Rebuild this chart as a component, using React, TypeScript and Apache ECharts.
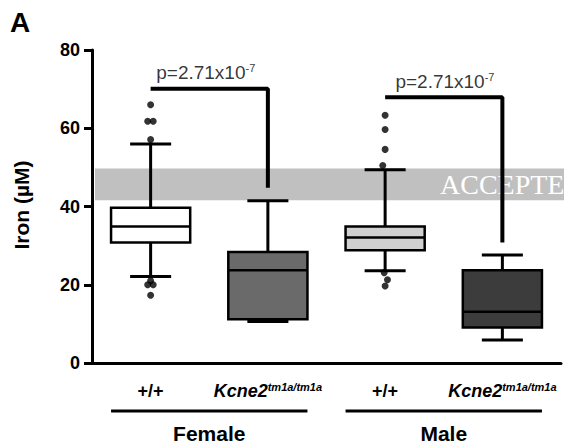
import React, { useEffect, useRef } from "react";
import * as echarts from "echarts";

const categories = ["Female +/+", "Female Kcne2", "Male +/+", "Male Kcne2"];
const axisLabels = ["+/+", "Kcne2", "+/+", "Kcne2"];
const groupNames = ["Female", "Male"];
// [low whisker, Q1, median, Q3, high whisker]
const lowWhisker = [22.1, 10.6, 23.6, 5.9];
const q1 = [30.8, 11.2, 28.8, 9.1];
const median = [34.9, 23.7, 32.1, 13.1];
const q3 = [39.7, 28.4, 34.9, 23.7];
const highWhisker = [56.0, 41.5, 49.4, 27.6];
const boxColors = ["#ffffff", "#6a6a6a", "#d0d0d0", "#3c3c3c"];
// outliers: [category position, value]
const outliers = [
  [0, 66.0], [-0.025, 61.8], [0.022, 61.8], [0, 57.1],
  [0, 21.0], [-0.025, 20.0], [0.022, 20.0], [0, 17.3],
  [2, 63.3], [2, 59.7], [2, 54.6], [1.98, 50.5],
  [1.992, 23.1], [2.02, 21.3], [2, 19.7],
];
const pText = "p=2.71x10";
const pExp = "-7";
const femaleBracket = [[0, 70.1], [1, 70.1], [1, 44.8]];
const maleBracket = [[2, 67.9], [3, 67.9], [3, 30.8]];
const pLabelPos = [[0.47, 70.1], [2.51, 67.9]];
const yMin = 0;
const yMax = 80;
const yInterval = 20;
const bandRange = [41.6, 49.7];

const FONT = "'Liberation Sans', Arial, sans-serif";

export default function App() {
  const ref = useRef<HTMLDivElement>(null);
  useEffect(() => {
    document.body.style.margin = "0";
    const chart = echarts.init(ref.current!, null, { renderer: "svg" });
    const boxData = categories.map((_, i) => [i, lowWhisker[i], q1[i], median[i], q3[i], highWhisker[i]]);
    const option: any = {
      animation: false,
      grid: { left: 92, right: 3, top: 50, bottom: 83 },
      xAxis: [
        {
          type: "category",
          data: categories,
          boundaryGap: true,
          axisLine: { onZero: false, lineStyle: { color: "#000", width: 3 } },
          axisTick: { alignWithLabel: true, length: 9, lineStyle: { color: "#000", width: 3 } },
          axisLabel: {
            interval: 0,
            margin: 18,
            color: "#000",
            fontFamily: FONT,
            formatter: (_v: string, i: number) =>
              axisLabels[i] === "Kcne2" ? "{k|Kcne2}{s|tm1a/tm1a}" : "{p|+/+}",
            rich: {
              p: { fontSize: 18, fontWeight: "bold", fontFamily: FONT, lineHeight: 20, color: "#000" },
              k: { fontSize: 18, fontWeight: "bold", fontStyle: "italic", fontFamily: FONT, lineHeight: 20, color: "#000" },
              s: { fontSize: 11, fontWeight: "bold", fontStyle: "italic", fontFamily: FONT, lineHeight: 11, verticalAlign: "top", color: "#000" },
            },
          },
          splitLine: { show: false },
        },
        { type: "value", min: -0.5, max: 3.5, show: false },
      ],
      yAxis: {
        type: "value",
        min: yMin,
        max: yMax,
        interval: yInterval,
        axisLine: { show: true, onZero: false, lineStyle: { color: "#000", width: 3 } },
        axisTick: { show: true, length: 8, lineStyle: { color: "#000", width: 3 } },
        axisLabel: { color: "#000", fontSize: 18, fontWeight: "bold", fontFamily: FONT, margin: 12 },
        splitLine: { show: false },
      },
      series: [
        {
          type: "custom",
          xAxisIndex: 0,
          data: boxData,
          z: 3,
          renderItem: (params: any, api: any) => {
            const x = api.value(0);
            const band = api.size([1, 0])[0];
            const bw = band * 0.675;
            const cw = band * 0.35;
            const pLow = api.coord([x, api.value(1)]);
            const pQ1 = api.coord([x, api.value(2)]);
            const pMed = api.coord([x, api.value(3)]);
            const pQ3 = api.coord([x, api.value(4)]);
            const pHigh = api.coord([x, api.value(5)]);
            const cx = pLow[0];
            const st = { stroke: "#000", lineWidth: 3 };
            return {
              type: "group",
              children: [
                { type: "line", shape: { x1: cx, y1: pQ3[1], x2: cx, y2: pHigh[1] }, style: st },
                { type: "line", shape: { x1: cx, y1: pQ1[1], x2: cx, y2: pLow[1] }, style: st },
                { type: "line", shape: { x1: cx - cw / 2, y1: pHigh[1], x2: cx + cw / 2, y2: pHigh[1] }, style: st },
                { type: "line", shape: { x1: cx - cw / 2, y1: pLow[1], x2: cx + cw / 2, y2: pLow[1] }, style: st },
                {
                  type: "rect",
                  shape: { x: cx - bw / 2, y: pQ3[1], width: bw, height: pQ1[1] - pQ3[1] },
                  style: { fill: boxColors[params.dataIndex], stroke: "#000", lineWidth: 2.5 },
                },
                { type: "line", shape: { x1: cx - bw / 2, y1: pMed[1], x2: cx + bw / 2, y2: pMed[1] }, style: { stroke: "#000", lineWidth: 2.5 } },
              ],
            };
          },
        },
        {
          type: "scatter",
          xAxisIndex: 1,
          data: outliers,
          symbolSize: 7,
          itemStyle: { color: "#000" },
          z: 4,
        },
        {
          type: "line",
          xAxisIndex: 1,
          data: femaleBracket,
          symbol: "none",
          lineStyle: { color: "#000", width: 4 },
          z: 4,
        },
        {
          type: "line",
          xAxisIndex: 1,
          data: maleBracket,
          symbol: "none",
          lineStyle: { color: "#000", width: 4 },
          z: 4,
        },
        {
          type: "scatter",
          xAxisIndex: 1,
          data: pLabelPos,
          symbolSize: 0,
          z: 4,
          label: {
            show: true,
            position: "top",
            distance: 6,
            formatter: "{a|" + pText + "}{b|" + pExp + "}",
            rich: {
              a: { fontSize: 19, fontFamily: FONT, color: "#000", lineHeight: 20 },
              b: { fontSize: 11, fontFamily: FONT, color: "#000", lineHeight: 11, verticalAlign: "top" },
            },
          },
        },
      ],
    };
    chart.setOption(option);

    const cxs = categories.map((_, i) => chart.convertToPixel({ xAxisIndex: 0 }, i) as number);
    const bandW = cxs[1] - cxs[0];
    const half = bandW * 0.675 / 2;
    const yTop = chart.convertToPixel({ yAxisIndex: 0 }, bandRange[1]) as number;
    const yBot = chart.convertToPixel({ yAxisIndex: 0 }, bandRange[0]) as number;
    const lineY = 411;
    const graphics: any[] = [
      {
        type: "rect",
        z: 1,
        shape: { x: 95, y: yTop, width: 469, height: yBot - yTop },
        style: { fill: "#c0c0c0" },
      },
      {
        type: "text",
        z: 1,
        x: 440,
        y: (yTop + yBot) / 2,
        style: { text: "ACCEPTE", fill: "#fff", font: "28px 'Liberation Serif', 'Times New Roman', serif", verticalAlign: "middle" },
      },
      {
        type: "text",
        x: 10,
        y: 8,
        style: { text: "A", fill: "#000", font: `bold 28px ${FONT}` },
      },
      {
        type: "text",
        x: 21,
        y: 205,
        rotation: Math.PI / 2,
        style: { text: "Iron (µM)", fill: "#000", font: `bold 21px ${FONT}`, align: "center", verticalAlign: "middle" },
      },
    ];
    groupNames.forEach((g, gi) => {
      const x1 = cxs[gi * 2] - half;
      const x2 = cxs[gi * 2 + 1] + half;
      graphics.push({
        type: "line",
        shape: { x1, y1: lineY, x2, y2: lineY },
        style: { stroke: "#000", lineWidth: 3 },
      });
      graphics.push({
        type: "text",
        x: (x1 + x2) / 2,
        y: 433,
        style: { text: g, fill: "#000", font: `bold 21px ${FONT}`, align: "center", verticalAlign: "middle" },
      });
    });
    chart.setOption({ graphic: graphics });
    return () => chart.dispose();
  }, []);
  return <div ref={ref} style={{ width: 564, height: 446 }} />;
}
